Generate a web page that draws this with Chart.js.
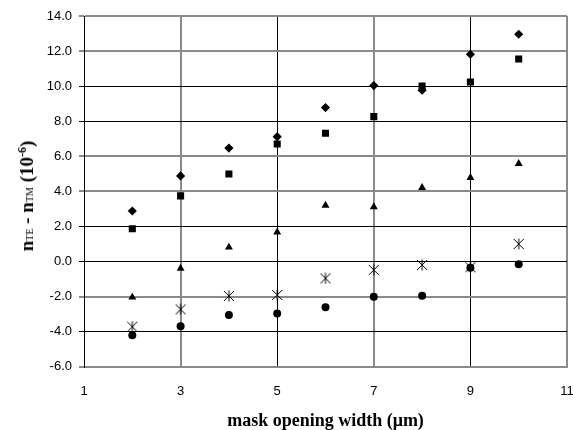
<!DOCTYPE html>
<html>
<head>
<meta charset="utf-8">
<script src="https://cdn.jsdelivr.net/npm/chart.js@4/dist/chart.umd.min.js"></script>
<style>
  html, body { margin: 0; padding: 0; background: #fff; overflow: hidden; }
  #wrap { position: relative; width: 573px; height: 430px; }
  canvas { display: block; }
  #ytitle {
    position: absolute; left: 26px; top: 196px;
    transform: translate(-50%, -50%) rotate(-90deg);
    white-space: nowrap; font-family: 'Liberation Serif', 'Times New Roman', serif;
    font-weight: bold; font-size: 19px; color: #000; line-height: 1;
  }
  #ytitle .s { font-size: 10px; font-weight: normal; }
  #ytitle sup { font-size: 12px; vertical-align: 7px; }
</style>
</head>
<body>
<div id="wrap">
  <canvas id="c" width="573" height="430"></canvas>
  <div id="ytitle">n<span class="s">TE</span> - n<span class="s">TM</span> (10<sup>-6</sup>)</div>
</div>
<script>
const widths = [2, 3, 4, 5, 6, 7, 8, 9, 10];
const diamondVals  = [2.88, 4.88, 6.47, 7.12, 8.78, 10.03, 9.77, 11.82, 12.96];
const squareVals   = [1.87, 3.74, 4.99, 6.70, 7.31, 8.26, 10.01, 10.24, 11.55];
const triangleVals = [-2.04, -0.39, 0.81, 1.67, 3.20, 3.11, 4.21, 4.78, 5.58];
const starVals     = [-3.72, -2.73, -1.97, -1.91, -0.96, -0.48, -0.20, -0.33, 1.00];
const circleVals   = [-4.21, -3.70, -3.05, -2.96, -2.61, -2.01, -1.95, -0.36, -0.16];
const xTicks = [1, 3, 5, 7, 9, 11];
const yTicks = [-6, -4, -2, 0, 2, 4, 6, 8, 10, 12, 14];

// asterisk-like marker (X with vertical bar)
const star = document.createElement('canvas');
star.width = 12; star.height = 12;
(function () {
  const g = star.getContext('2d');
  g.strokeStyle = '#000'; g.lineWidth = 1;
  g.beginPath();
  g.moveTo(1, 1); g.lineTo(11, 11);
  g.moveTo(1, 11); g.lineTo(11, 1);
  g.moveTo(6, 0.5); g.lineTo(6, 11.5);
  g.stroke();
})();

const pts = (vals) => widths.map((x, i) => ({ x: x, y: vals[i] }));
const grayX = new Set([3, 7, 11]);
const grayY = new Set([14, 12, 6, 4, -2, -6]);

function mk(vals, style, r) {
  return { data: pts(vals), pointStyle: style, pointRadius: r, pointHoverRadius: r,
           backgroundColor: '#000', borderColor: '#000', borderWidth: 0, showLine: false };
}

new Chart(document.getElementById('c'), {
  type: 'scatter',
  data: {
    datasets: [
      mk(diamondVals, 'rectRot', 4.6),
      mk(squareVals, 'rect', 5),
      mk(triangleVals, 'triangle', 4.6),
      mk(starVals, star, 6),
      mk(circleVals, 'circle', 4)
    ]
  },
  options: {
    responsive: false,
    animation: false,
    events: [],
    layout: { padding: { left: 0, right: 6, top: 16, bottom: 0 } },
    plugins: { legend: { display: false }, tooltip: { enabled: false } },
    scales: {
      x: {
        type: 'linear', min: xTicks[0], max: xTicks[xTicks.length - 1],
        afterBuildTicks: (s) => { s.ticks = xTicks.map(v => ({ value: v })); },
        afterFit: (s) => { s.height = 63.3; s.paddingRight = 6; s.paddingLeft = 0; },
        ticks: { padding: 0, color: '#000', font: { family: "'Liberation Sans', Arial", size: 13 },
                 callback: (v) => String(v) },
        grid: {
          drawTicks: true,
          tickLength: 17,
          tickColor: 'rgba(0,0,0,0)',
          color: (ctx) => grayX.has(ctx.tick && ctx.tick.value) ? '#8a8a8a' : '#000',
          lineWidth: (ctx) => grayX.has(ctx.tick && ctx.tick.value) ? 2 : 1
        },
        border: { color: '#8a8a8a', width: 2 },
        title: { display: true, text: 'mask opening width (μm)', color: '#000',
                 padding: { top: 0, bottom: 0 },
                 font: { family: "'Liberation Serif', 'Times New Roman', serif", size: 18, weight: 'bold', lineHeight: 1.0 } }
      },
      y: {
        type: 'linear', min: yTicks[0], max: yTicks[yTicks.length - 1],
        afterBuildTicks: (s) => { s.ticks = yTicks.map(v => ({ value: v })); },
        afterFit: (s) => { s.width = 84; },
        ticks: { padding: 7, color: '#000', font: { family: "'Liberation Sans', Arial", size: 13 },
                 callback: (v) => Number(v).toFixed(1) },
        grid: {
          tickLength: 5,
          color: (ctx) => grayY.has(ctx.tick && ctx.tick.value) ? '#8a8a8a' : '#000',
          lineWidth: (ctx) => grayY.has(ctx.tick && ctx.tick.value) ? 2 : 1
        },
        border: { color: '#000', width: 1 }
      }
    }
  }
});
</script>
</body>
</html>
